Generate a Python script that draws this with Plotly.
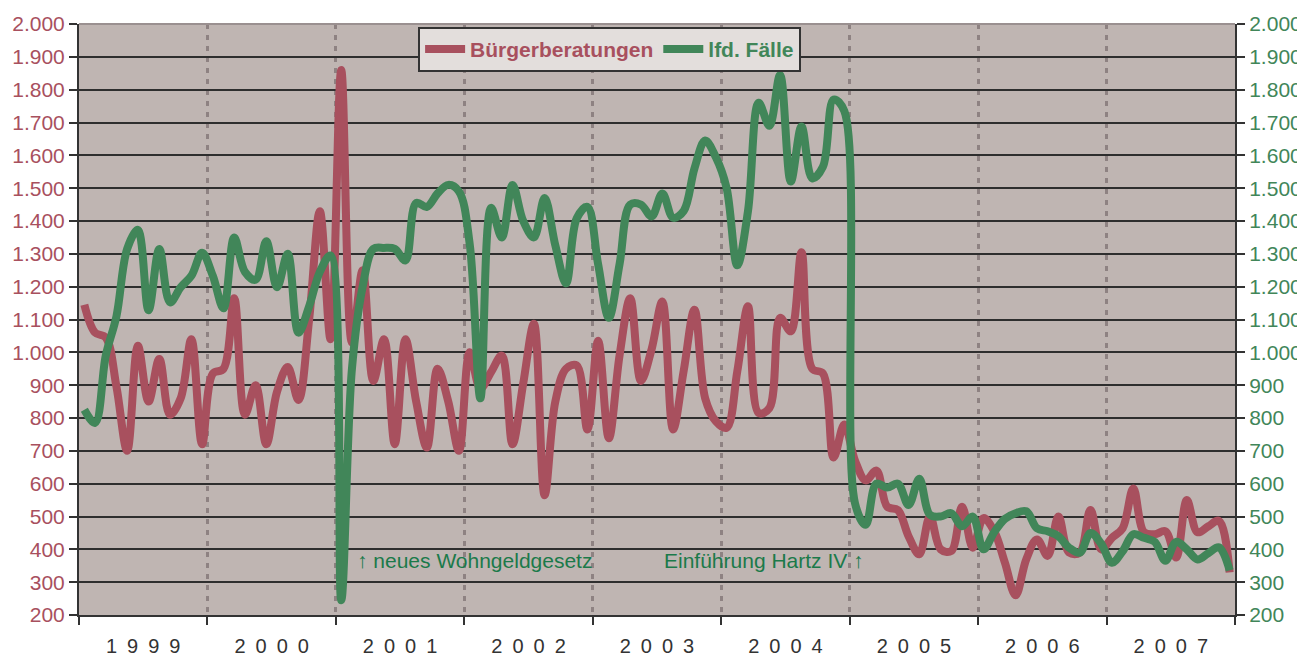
import plotly.graph_objects as go

# monthly values 1999-2007 (108 months each)
beratungen = [
    1145, 1060, 1045, 895, 700, 1020, 850, 980, 810, 860, 1040, 720,      # 1999
    935, 950, 1165, 810, 900, 720, 880, 955, 855, 1100, 1430, 1040,      # 2000
    1860, 1030, 1250, 913, 1040, 720, 1040, 850, 710, 950, 850, 700,     # 2001
    1000, 890, 940, 990, 720, 905, 1087, 565, 850, 950, 960, 765,        # 2002
    1035, 738, 990, 1165, 913, 1010, 1155, 765, 945, 1130, 860, 790,     # 2003
    770, 942, 1140, 815, 830, 1105, 1064, 1305, 950, 936, 680, 780,      # 2004
    670, 610, 640, 530, 520, 440, 385, 500, 400, 395, 530, 405,          # 2005
    495, 455, 360, 260, 370, 430, 380, 500, 390, 390, 520, 400,          # 2006
    435, 464, 585, 452, 446, 455, 375, 550, 452, 470, 487, 330,          # 2007
]
lfd_faelle = [
    825, 785, 990, 1110, 1315, 1373, 1128, 1315, 1152, 1198, 1233, 1303,
    1233, 1134, 1350, 1245, 1221, 1338, 1198, 1300, 1060, 1140, 1245, 1295,
    245, 950, 1200, 1315, 1318, 1315, 1280, 1455, 1443, 1484, 1510, 1490,
    1330, 860, 1440, 1350, 1510, 1400, 1350, 1470, 1326, 1210, 1408, 1443,
    1268, 1105, 1268, 1450, 1450, 1414, 1484, 1410, 1431, 1560, 1645, 1594,
    1501, 1265, 1430, 1760, 1690, 1845, 1520, 1688, 1530, 1565, 1770, 1735,
    540, 475, 600, 588, 600, 535, 615, 505, 500, 510, 470, 500,
    400, 452, 493, 510, 516, 464, 455, 440, 405, 390, 450, 417,
    359, 394, 446, 435, 423, 365, 423, 400, 369, 388, 406, 336,
]
years = ["1999", "2000", "2001", "2002", "2003", "2004", "2005", "2006", "2007"]
y_ticks = list(range(200, 2001, 100))
y_labels = [f"{v:,}".replace(",", ".") for v in y_ticks]

RED = "#a8505e"
GREEN = "#418659"
FONT = "Liberation Sans, Arial, sans-serif"

months = list(range(len(beratungen)))
year_centers = [12 * k + 5.5 for k in range(len(years))]
year_text = ["\u2002".join(y) for y in years]

fig = go.Figure()
fig.add_trace(go.Scatter(
    x=months, y=beratungen, mode="lines",
    name=f"<span style='color:{RED}'><b>Bürgerberatungen</b></span>",
    line=dict(color=RED, width=8, shape="spline"),
))
fig.add_trace(go.Scatter(
    x=months, y=lfd_faelle, mode="lines", yaxis="y2",
    name=f"<span style='color:{GREEN}'><b>lfd. Fälle</b></span>",
    line=dict(color=GREEN, width=8, shape="spline"),
))

# the page body adds an 8px offset, so the figure is sized to fit the window
fig.update_layout(
    width=1297, height=650,
    margin=dict(l=71, r=70, t=16, b=43),
    paper_bgcolor="white",
    plot_bgcolor="#bfb5b2",
    font=dict(family=FONT, size=20, color="#333333"),
    showlegend=True,
    legend=dict(
        orientation="h", x=0.459, xanchor="center", y=0.995, yanchor="top",
        bgcolor="#e3dedc", bordercolor="#333333", borderwidth=2,
        font=dict(size=21), itemwidth=40, tracegroupgap=0,
    ),
    xaxis=dict(
        range=[-0.5, len(months) - 0.5], automargin=False,
        tickvals=year_centers, ticktext=year_text,
        ticks="outside", ticklen=12, tickcolor="rgba(0,0,0,0)",
        tickfont=dict(size=20, color="#333333"),
        showgrid=False, zeroline=False,
        showline=True, linecolor="#333333", linewidth=2,
        minor=dict(
            tickvals=[12 * k - 0.5 for k in range(len(years) + 1)],
            ticks="outside", ticklen=8, tickwidth=2, tickcolor="#333333",
            showgrid=True, gridcolor="#8e8282", griddash="5px,6px", gridwidth=3,
        ),
    ),
    yaxis=dict(
        range=[200, 2000], automargin=False, tickvals=y_ticks, ticktext=y_labels,
        tickfont=dict(size=21, color=RED),
        ticks="outside", ticklen=8, tickwidth=2, tickcolor="#333333",
        showline=True, linecolor="#333333", linewidth=2,
        showgrid=True, gridcolor="#2e2e2e", gridwidth=2, zeroline=False,
    ),
    yaxis2=dict(
        range=[200, 2000], automargin=False, tickvals=y_ticks, ticktext=y_labels,
        overlaying="y", side="right",
        tickfont=dict(size=21, color=GREEN),
        ticks="outside", ticklen=8, tickwidth=2, tickcolor="#333333",
        showline=True, linecolor="#333333", linewidth=2,
        showgrid=False, zeroline=False,
    ),
)

# light top border like the original frame
fig.add_shape(type="line", xref="paper", yref="paper", x0=0, x1=1, y0=1, y1=1,
              line=dict(color="#9a9090", width=2))

fig.add_annotation(x=25.3, y=367, xanchor="left", yanchor="middle", showarrow=False,
                   text="\u2191 neues Wohngeldgesetz",
                   font=dict(size=21, color="#1b7a4a"))
fig.add_annotation(x=73.05, y=367, xanchor="right", yanchor="middle", showarrow=False,
                   text="Einführung Hartz IV \u2191",
                   font=dict(size=21, color="#1b7a4a"))

fig.write_html("out.html")
